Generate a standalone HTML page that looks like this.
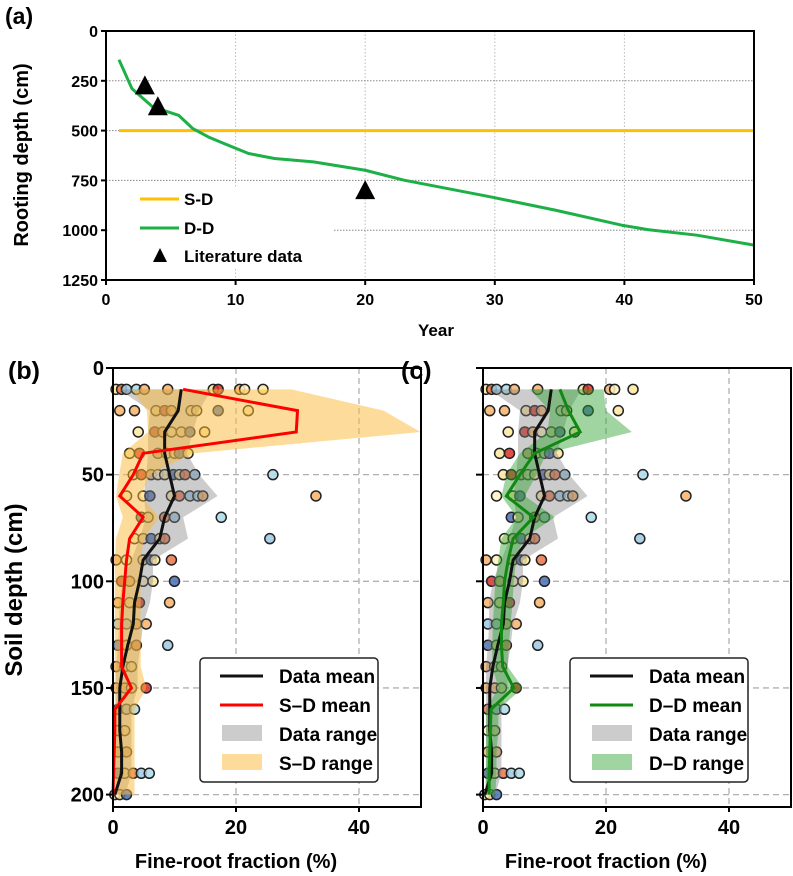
<!DOCTYPE html>
<html><head><meta charset="utf-8"><style>
body{margin:0;background:#fff;}
svg{display:block;font-family:"Liberation Sans",Arial,sans-serif;font-weight:bold;}
</style></head><body>
<svg id="fig" width="793" height="876" viewBox="0 0 793 876" xmlns="http://www.w3.org/2000/svg">
<g id="pa"></g>
<g id="pb"></g>
<g id="pc"></g>
</svg>
<script>
// Panel (a) data
const aXTicks=[0,10,20,30,40,50];
const aYTicks=[0,250,500,750,1000,1250];
const ddYears=[1,2,3.6,5.6,6.7,7.9,9.1,11,13,16,20,23,27,29.7,34.7,39.8,41.8,45.6,50];
const ddDepth=[144,289,381,423,490,532,565,615,640,657,699,749,799,833,900,975,997,1025,1075];
const sdYears=[1,50];
const sdDepth=[500,500];
const litYears=[3,4,20];
const litDepth=[273,378,799];
// Panels (b),(c) data
const depths=[10,20,30,40,50,60,70,80,90,100,110,120,130,140,150,160,170,180,190,200];
const obs=[
[0.5,1.4,2.2,3.8,5.1,8.9,16.3,17.1,20.6,21.4,24.4],
[1.1,3.5,7,8.4,9.5,12.7,13.6,17.1,22],
[4.1,6.8,8.1,9.5,11.1,12.5,14.9],
[2.7,4.3,7.3,8.7,10,10.8,12.2],
[3.3,4.6,6.2,7.3,8.4,9.8,10.8,11.7,13.3,26],
[2.2,4.9,6,9.5,10.8,12.5,13.8,14.6,33],
[4.6,5.7,8.4,10,17.6],
[3.5,4.9,6.2,7.6,8.4,25.5],
[0.5,2.2,4.9,6.2,6.8,9.5],
[1.4,2.7,4.9,6.5,10],
[0.8,2.7,4.3,9.2],
[0.8,2.2,3.8,5.4],
[0.8,2.2,3.8,8.9],
[0.5,1.9,3],
[0.5,1.9,3,5.4],
[0.8,2.2,3.5],
[0.8,1.9],
[0.8,2.2],
[0.8,1.9,3.3,4.6,5.9],
[0.3,1.1,2.2]];
const dataMean=[11.1,10.6,8.4,8.4,9.2,10,8.4,7.6,4.9,4.3,3.5,3.3,2.4,1.6,1.1,1.1,1.1,1.4,1.4,0.3];
const dataLo=[1,6,5.7,5.7,5.4,5,5.4,4.3,3,1.6,1,1,0.8,0.5,0.5,0.5,0.5,0.5,0.5,0.3];
const dataHi=[16,14,13,12,14,17,11.4,12.2,6.5,6.5,6,4.9,4.5,4,4,3,3,3,3,2];
const sdMean=[11.4,30,29.8,4.9,3.3,1.1,4.9,2.7,2.2,1.9,1.6,1.4,1.4,1.4,3,0.3,0.3,0.2,0.1,0];
const sdLo=[3,5.5,5.7,1.6,1,0.5,1.6,0.5,0.3,0.3,0.3,0.3,0.3,0.3,0.3,0.3,0.3,0.3,0.3,0.3];
const sdHi=[29,44,50,13,6,4.5,7.5,5,4.5,4.5,4.5,4.5,4.5,4.5,5.4,3.5,3.5,3.5,3.5,3.5];
const ddMean2=[12.5,13.9,15.8,8.4,6,3.8,8.2,4.9,4.1,3.5,3.3,3,3,3.2,5,1.3,1.2,1.1,1,1];
const ddLo2=[7.6,10.9,10.5,6,3.8,3,5.5,3,2.5,2,1.8,1.6,1.5,1.5,2.5,0.5,0.5,0.5,0.5,0.5];
const ddHi2=[19.6,20,24.2,10.3,8.7,6.8,11.7,6.5,5.4,5,4.8,4.5,4.2,4,6.5,2.5,2.5,2.2,2.2,2];
const bXTicks=[0,20,40];
const bYTicks=[0,50,100,150,200];
const palette=['#fde8a0','#f6b26b','#fde8a0','#abd9e9','#f6b26b','#e8754a','#fde8a0','#4a6fb5','#f6b26b','#fff2c0','#9ec9e2','#d73027'];

const NS='http://www.w3.org/2000/svg';
function mk(parent,tag,attrs){const e=document.createElementNS(NS,tag);for(const k in attrs)e.setAttribute(k,attrs[k]);parent.appendChild(e);return e;}

// ---------- Panel a ----------
(function(){
const g=document.getElementById('pa');
const L=106,R=754,T=31,B=280;
const ax=v=>L+(v-0)/50*(R-L);
const ay=v=>T+v/1250*(B-T);
aXTicks.forEach(t=>{if(t>0&&t<50){const l=mk(g,'line',{x1:ax(t),x2:ax(t),y1:T,y2:B,stroke:'#bbb','stroke-dasharray':'1.5,2','stroke-width':1});}});
aYTicks.forEach(t=>{if(t>0&&t<1250){const l=mk(g,'line',{x1:L,x2:R,y1:ay(t),y2:ay(t),stroke:'#888','stroke-dasharray':'1.5,1.5','stroke-width':1});}});
const lb=mk(g,'rect',{x:L+2,y:188,width:225,height:80,fill:'#fff'});

const sd=mk(g,'polyline',{points:sdYears.map((v,i)=>ax(v)+','+ay(sdDepth[i])).join(' '),fill:'none',stroke:'#ffc000','stroke-width':3});

const dd=mk(g,'polyline',{points:ddYears.map((v,i)=>ax(v)+','+ay(ddDepth[i])).join(' '),fill:'none',stroke:'#1db046','stroke-width':3,'stroke-linejoin':'round'});

litYears.forEach((v,i)=>{const x=ax(v),y=ay(litDepth[i]);const p=mk(g,'polygon',{points:`${x},${y-10} ${x-10},${y+9} ${x+10},${y+9}`,fill:'#000'});});
const fr=mk(g,'rect',{x:L,y:T,width:R-L,height:B-T,fill:'none',stroke:'#000','stroke-width':2});

aXTicks.forEach(t=>{mk(g,'line',{x1:ax(t),x2:ax(t),y1:B,y2:B+5,stroke:'#000','stroke-width':2});const tx=mk(g,'text',{x:ax(t),y:B+25,'text-anchor':'middle','font-size':16});tx.textContent=t;});
aYTicks.forEach(t=>{mk(g,'line',{x1:L-5,x2:L,y1:ay(t),y2:ay(t),stroke:'#000','stroke-width':2});const tx=mk(g,'text',{x:L-8,y:ay(t)+6,'text-anchor':'end','font-size':16});tx.textContent=t;});
const le=[['S-D','#ffc000',199],['D-D','#1db046',228]];
le.forEach(e=>{mk(g,'line',{x1:140,x2:179,y1:e[2],y2:e[2],stroke:e[1],'stroke-width':3});const t=mk(g,'text',{x:184,y:e[2]+6,'font-size':17});t.textContent=e[0];});
mk(g,'polygon',{points:'160,248 153,262 167,262',fill:'#000'});
const lt=mk(g,'text',{x:184,y:262,'font-size':17});lt.textContent='Literature data';
const t1=mk(g,'text',{x:5,y:24,'font-size':23});t1.textContent='(a)';
const yl=mk(g,'text',{x:0,y:0,'font-size':20,'text-anchor':'middle',transform:'translate(28,155) rotate(-90)'});yl.textContent='Rooting depth (cm)';
const xl=mk(g,'text',{x:436,y:336,'font-size':17,'text-anchor':'middle'});xl.textContent='Year';
})();

// ---------- Panels b, c ----------
function profile(gid,L,R,modelMean,modelLo,modelHi,meanCol,rangeCol,rangeOp,modelName,label,lx,showY){
const g=document.getElementById(gid);
const T=368,B=807;
const sx=v=>L+v*6.15;
const sy=d=>T+d*2.133;
bXTicks.forEach(t=>{if(t>0){const l=mk(g,'line',{x1:sx(t),x2:sx(t),y1:T,y2:B,stroke:'#b0b0b0','stroke-dasharray':'6,4','stroke-width':1.3});}});
bYTicks.forEach(t=>{if(t>0){const l=mk(g,'line',{x1:L,x2:R,y1:sy(t),y2:sy(t),stroke:'#b0b0b0','stroke-dasharray':'6,4','stroke-width':1.3});}});
let k=0;
depths.forEach((d,i)=>{obs[i].forEach(v=>{const c=mk(g,'circle',{cx:sx(v),cy:sy(d),r:5,fill:palette[(k*5+i)%palette.length],'fill-opacity':0.85,stroke:'#222','stroke-width':1.5});k++;});});
const band=(lo,hi)=>depths.map((d,i)=>sx(hi[i])+','+sy(d)).join(' ')+' '+depths.slice().reverse().map((d,j)=>{const i=depths.length-1-j;return sx(lo[i])+','+sy(d);}).join(' ');
const gr=mk(g,'polygon',{points:band(dataLo,dataHi),fill:'#808080','fill-opacity':0.4});

const mr=mk(g,'polygon',{points:band(modelLo,modelHi),fill:rangeCol,'fill-opacity':rangeOp});

const dm=mk(g,'polyline',{points:depths.map((d,i)=>sx(dataMean[i])+','+sy(d)).join(' '),fill:'none',stroke:'#111','stroke-width':3});

const mm=mk(g,'polyline',{points:depths.map((d,i)=>sx(modelMean[i])+','+sy(d)).join(' '),fill:'none',stroke:meanCol,'stroke-width':3});

const fr=mk(g,'rect',{x:L,y:T,width:R-L,height:B-T,fill:'none',stroke:'#000','stroke-width':2});

bXTicks.forEach(t=>{mk(g,'line',{x1:sx(t),x2:sx(t),y1:B,y2:B+5,stroke:'#000','stroke-width':2});const tx=mk(g,'text',{x:sx(t),y:B+27,'text-anchor':'middle','font-size':20});tx.textContent=t;});
bYTicks.forEach(t=>{mk(g,'line',{x1:L-7,x2:L,y1:sy(t),y2:sy(t),stroke:'#000','stroke-width':2});if(showY){const tx=mk(g,'text',{x:L-9,y:sy(t)+7,'text-anchor':'end','font-size':20});tx.textContent=t;}});
const xl=mk(g,'text',{x:L+123,y:868,'text-anchor':'middle','font-size':20});xl.textContent='Fine-root fraction (%)';
const pl=mk(g,'text',{x:lx,y:379,'font-size':25});pl.textContent=label;
const lg=mk(g,'g',{});
mk(lg,'rect',{x:L+87,y:658,width:178,height:124,rx:4,fill:'#fff',stroke:'#222','stroke-width':1.5});
const items=[['Data mean','line','#111',1],[modelName+' mean','line',meanCol,1],['Data range','rect','#808080',0.4],[modelName+' range','rect',rangeCol,rangeOp]];
items.forEach((it,i)=>{const y=676+i*29;if(it[1]=='line')mk(lg,'line',{x1:L+107,x2:L+150,y1:y,y2:y,stroke:it[2],'stroke-width':3});else mk(lg,'rect',{x:L+109,y:y-9,width:40,height:16,fill:it[2],'fill-opacity':it[3]});const t=mk(lg,'text',{x:L+166,y:y+7,'font-size':19});t.textContent=it[0];});
}
profile('pb',113,421,sdMean,sdLo,sdHi,'#ff0000','#fbb938',0.5,'S\u2013D','(b)',8,true);
profile('pc',483,791,ddMean2,ddLo2,ddHi2,'#118811','#2ca02c',0.45,'D\u2013D','(c)',401,false);
const sdl=document.createElementNS(NS,'text');


sdl.setAttribute('font-size','24');sdl.setAttribute('text-anchor','middle');sdl.setAttribute('transform','translate(22,590) rotate(-90)');
sdl.textContent='Soil depth (cm)';
document.getElementById('pb').appendChild(sdl);
</script>
</body></html>
